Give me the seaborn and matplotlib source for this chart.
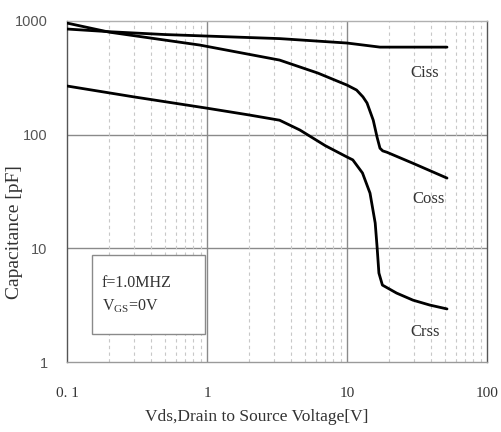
import matplotlib
matplotlib.use("Agg")
import matplotlib.pyplot as plt
import matplotlib.ticker as mticker
import numpy as np
import pandas as pd
import seaborn as sns

# Drain-source voltage [V] and capacitance [pF] for each curve
ciss_v = [0.1, 0.2, 0.5, 1.0, 3.3, 10.0, 17.2, 51.8]
ciss_c = [850, 805, 760, 737, 700, 640, 589, 589]

coss_v = [0.1, 0.2, 0.89, 3.3, 6.2, 10.0, 11.7, 13.0, 13.9, 15.4, 16.4, 17.2, 18.0, 19.3, 29.6, 51.8]
coss_c = [959, 798, 614, 453, 348, 273, 247, 215, 190, 134, 95, 76, 72, 70, 56, 41.5]

crss_v = [0.1, 0.3, 1.0, 2.0, 3.3, 4.6, 7.0, 10.0, 11.0, 12.9, 14.6, 15.9, 16.4, 16.9, 17.9, 22.6, 29.6, 39.0, 51.8]
crss_c = [268, 215, 171, 149, 134, 110, 80, 63.6, 60, 46, 30.6, 16.7, 10.3, 6.06, 4.75, 4.04, 3.5, 3.17, 2.93]

curve_names = ["Ciss", "Coss", "Crss"]
x_ticks = [0.1, 1, 10, 100]
x_ticklabels = ["0. 1", "1", "10", "100"]
y_ticks = [1, 10, 100, 1000]
y_ticklabels = ["1", "10", "100", "1000"]

df = pd.concat([
    pd.DataFrame({"Vds": v, "C": c, "curve": n})
    for n, v, c in zip(curve_names, [ciss_v, coss_v, crss_v], [ciss_c, coss_c, crss_c])
])

sns.set_style("white")
serif = ["Liberation Serif", "DejaVu Serif"]

fig = plt.figure(figsize=(5.02, 4.32), dpi=100)
ax = fig.add_axes([67 / 502, 1 - 362 / 432, 420 / 502, 341 / 432])

ax.set_xscale("log")
ax.set_yscale("log")
ax.set_xlim(0.1, 100)
ax.set_ylim(1, 1000)

# grid: solid at decades, dashed vertical minor lines
for xv in [1, 10]:
    ax.axvline(xv, color="#8a8a8a", lw=1.0, zorder=1)
for yv in [10, 100]:
    ax.axhline(yv, color="#8a8a8a", lw=1.0, zorder=1)
for dec in [0.1, 1, 10]:
    for m in range(2, 10):
        ax.axvline(dec * m, color="#c8c8c8", lw=0.8, ls=(0, (3, 3)), zorder=1)

sns.lineplot(data=df, x="Vds", y="C", units="curve", estimator=None,
             color="black", lw=2.0, sort=False, ax=ax, zorder=3)

ax.set_xticks(x_ticks)
ax.set_xticklabels(x_ticklabels, family=serif, fontsize=11, color="#333333")
ax.set_yticks(y_ticks)
ax.set_yticklabels(y_ticklabels, family=["Liberation Sans", "DejaVu Sans"], fontsize=10.5, color="#555555")
ax.xaxis.set_minor_locator(mticker.NullLocator())
ax.yaxis.set_minor_locator(mticker.NullLocator())
ax.tick_params(axis="x", which="major", direction="out", length=4, width=0.8, color="#777777", pad=14)
ax.tick_params(axis="y", which="major", direction="out", length=5, width=0.8, color="#777777", pad=9)

for side, col in [("left", "#555555"), ("bottom", "#9a9a9a"), ("top", "#b0b0b0"), ("right", "#555555")]:
    ax.spines[side].set_visible(True)
    ax.spines[side].set_color(col)
    ax.spines[side].set_linewidth(1.0)

ax.set_xlabel("Vds,Drain to Source Voltage[V]", family=serif, fontsize=12.5, color="#333333")
ax.set_ylabel("Capacitance [pF]", family=serif, fontsize=14, color="#333333")
ax.xaxis.set_label_coords(0.452, -0.138)
ax.yaxis.set_label_coords(-0.105, 0.38)

# curve names
for name, xv, yv in [("Ciss", 36, 350), ("Coss", 38, 27), ("Crss", 36, 1.85)]:
    ax.text(xv, yv, name, family=serif, fontsize=12, color="#333333",
            ha="center", va="center", zorder=4)

# test-condition box
ax.add_patch(plt.Rectangle((25 / 420, (362 - 334) / 341), 113 / 420, 79 / 341,
                           transform=ax.transAxes, fill=True, facecolor="white",
                           edgecolor="#8a8a8a", lw=1.0, zorder=2))
ax.text(35 / 420, (362 - 283) / 341, "f=1.0MHZ", transform=ax.transAxes,
        family=serif, fontsize=11.5, color="#333333", va="center", zorder=4)
ax.text(35 / 420, (362 - 306) / 341, r"V$_{\mathregular{GS}}$=0V", transform=ax.transAxes,
        family=serif, fontsize=11.5, color="#333333", va="center", zorder=4)

fig.savefig("out.png", dpi=100)
